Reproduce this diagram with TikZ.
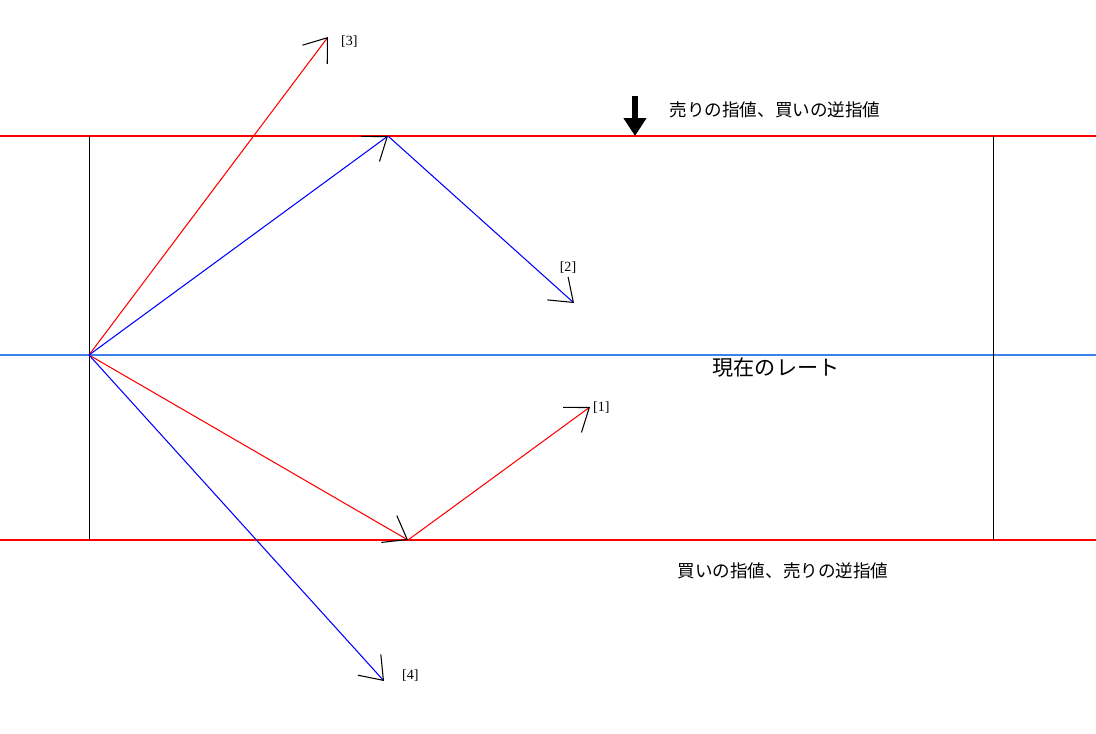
\documentclass[tikz,border=0pt]{standalone}
\usepackage{fontspec}
\setmainfont{Liberation Serif}
\newfontfamily\jpfont{Noto Sans CJK JP}
\usetikzlibrary{arrows.meta}
\definecolor{rateblue}{RGB}{60,130,235}

\begin{document}
\begin{tikzpicture}[x=0.02cm, y=-0.02cm,
    move/.style={line width=0.6pt, -{Straight Barb[color=black, length=0.42cm, width=0.62cm, line width=0.6pt]}},
    tag/.style={font=\fontsize{8}{9}\selectfont, inner sep=1pt},
    jtext/.style={font=\jpfont\fontsize{10}{12}\selectfont, inner sep=1pt}]
    \useasboundingbox (0,0) rectangle (1096,734);

    % Price levels
    \draw[red, line width=0.6pt] (0,136) -- (1096,136);
    \draw[red, line width=0.6pt] (0,540) -- (1096,540);
    \draw[rateblue, line width=0.6pt] (0,355) -- (1096,355);

    % Time window
    \draw[black, line width=0.5pt] (89,136) -- (89,540);
    \draw[black, line width=0.5pt] (993,136) -- (993,540);

    % Points of the price path
    \coordinate (O) at (89,355);
    \coordinate (up) at (388,136);
    \coordinate (dn) at (408,540);
    \coordinate (e1) at (590,407);
    \coordinate (e2) at (574,303);
    \coordinate (e3) at (328,37);
    \coordinate (e4) at (384,681);

    % Price moves
    \draw[move, red] (O) -- (e3);
    \draw[move, blue] (O) -- (up);
    \draw[move, blue] (up) -- (e2);
    \draw[move, red] (O) -- (dn);
    \draw[move, red] (dn) -- (e1);
    \draw[move, blue] (O) -- (e4);

    % Labels of the moves
    \node[tag, anchor=west] (l1) at (591,408) {[1]};
    \node[tag] (l2) at (568,268) {[2]};
    \node[tag, anchor=west] (l3) at (339,42) {[3]};
    \node[tag, anchor=west] (l4) at (400,676) {[4]};

    % Texts of the levels
    \draw[line width=3.4pt, -{Triangle[length=0.36cm, width=0.44cm]}] (635,96) -- (635,136);
    \node[jtext] (sell) at (775,110) {売りの指値、買いの逆指値};
    \node[jtext] (buy) at (783,571) {買いの指値、売りの逆指値};
    \node[jtext, font=\jpfont\fontsize{12}{14}\selectfont] (rate) at (776,368) {現在のレート};
\end{tikzpicture}
\end{document}
